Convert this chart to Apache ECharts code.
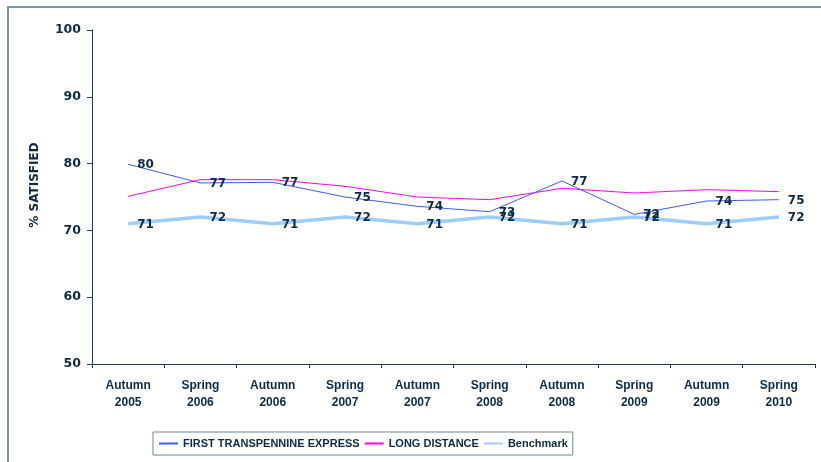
<!DOCTYPE html>
<html>
<head>
<meta charset="utf-8">
<script src="https://cdn.jsdelivr.net/npm/echarts@6/dist/echarts.min.js"></script>
<style>
  html, body { margin: 0; padding: 0; background: #fff; }
  #chart { width: 821px; height: 462px; }
</style>
</head>
<body>
<div id="chart"></div>
<script>
// survey periods
var periods = [
  "Autumn\n2005", "Spring\n2006", "Autumn\n2006", "Spring\n2007", "Autumn\n2007",
  "Spring\n2008", "Autumn\n2008", "Spring\n2009", "Autumn\n2009", "Spring\n2010"
];
// % satisfied
var firstTranspennine = [79.9, 77.1, 77.2, 75.0, 73.6, 72.8, 77.4, 72.4, 74.4, 74.6];
var longDistance = [75.1, 77.6, 77.6, 76.6, 75.0, 74.6, 76.3, 75.6, 76.1, 75.8];
var benchmark = [71, 72, 71, 72, 71, 72, 71, 72, 71, 72];
var yTicks = [50, 60, 70, 80, 90, 100];

var navy = "#0d2b45";
var narrow = "'Liberation Sans Narrow', 'Arial Narrow', 'Liberation Sans', Arial, sans-serif";
var verdana = "Verdana, 'DejaVu Sans', sans-serif";

var chart = echarts.init(document.getElementById("chart"));

var labelStyle = {
  show: true,
  position: "right",
  distance: 9,
  offset: [0, 1],
  color: navy,
  fontFamily: verdana,
  fontWeight: "bold",
  fontSize: 12,
  formatter: function (p) { return Math.round(p.value); }
};

chart.setOption({
  animation: false,
  backgroundColor: "#fff",
  graphic: [
    {
      // outer frame of the chart area
      type: "rect",
      silent: true,
      shape: { x: 8, y: 7, width: 900, height: 600 },
      style: { fill: "none", stroke: "#7b98aa", lineWidth: 2 }
    }
  ],
  grid: { left: 92, right: 6, top: 30, bottom: 98 },
  legend: {
    left: 153,
    top: 432,
    padding: [6, 5, 6, 5],
    itemGap: 4,
    itemWidth: 19,
    itemHeight: 10,
    borderColor: "#6c8798",
    borderWidth: 1,
    itemStyle: { opacity: 0 },
    textStyle: { color: navy, fontFamily: narrow, fontWeight: "bold", fontSize: 11 },
    data: ["FIRST TRANSPENNINE EXPRESS", "LONG DISTANCE", "Benchmark"]
  },
  xAxis: {
    type: "category",
    data: periods,
    boundaryGap: true,
    axisLine: { lineStyle: { color: "#203c55", width: 1 } },
    axisTick: { show: true, inside: false, length: 4, lineStyle: { color: "#203c55" } },
    axisLabel: {
      color: navy,
      fontFamily: narrow,
      fontWeight: "bold",
      fontSize: 12,
      lineHeight: 17,
      margin: 13,
      interval: 0
    }
  },
  yAxis: {
    type: "value",
    min: yTicks[0],
    max: yTicks[yTicks.length - 1],
    interval: 10,
    name: "% SATISFIED",
    nameLocation: "middle",
    nameGap: 51,
    nameTextStyle: {
      color: navy,
      fontFamily: verdana,
      fontWeight: "bold",
      fontSize: 12,
      padding: [0, 0, 0, 24]
    },
    splitLine: { show: false },
    axisLine: { show: true, lineStyle: { color: "#203c55", width: 1 } },
    axisTick: { show: true, length: 5, lineStyle: { color: "#203c55" } },
    axisLabel: {
      color: navy,
      fontFamily: verdana,
      fontWeight: "bold",
      fontSize: 12.5,
      margin: 11
    }
  },
  series: [
    {
      name: "FIRST TRANSPENNINE EXPRESS",
      type: "line",
      symbol: "circle",
      symbolSize: 0.01,
      showSymbol: true,
      data: firstTranspennine,
      lineStyle: { color: "#3a5cf0", width: 1 },
      itemStyle: { color: "#3a5cf0" },
      label: labelStyle,
      z: 4
    },
    {
      name: "LONG DISTANCE",
      type: "line",
      symbol: "none",
      data: longDistance,
      lineStyle: { color: "#ff00ff", width: 1 },
      itemStyle: { color: "#ff00ff" },
      z: 3
    },
    {
      name: "Benchmark",
      type: "line",
      symbol: "circle",
      symbolSize: 0.01,
      showSymbol: true,
      data: benchmark,
      lineStyle: { color: "#9fcdfb", width: 3.5 },
      itemStyle: { color: "#9fcdfb" },
      label: labelStyle,
      z: 2
    }
  ]
});
</script>
</body>
</html>
